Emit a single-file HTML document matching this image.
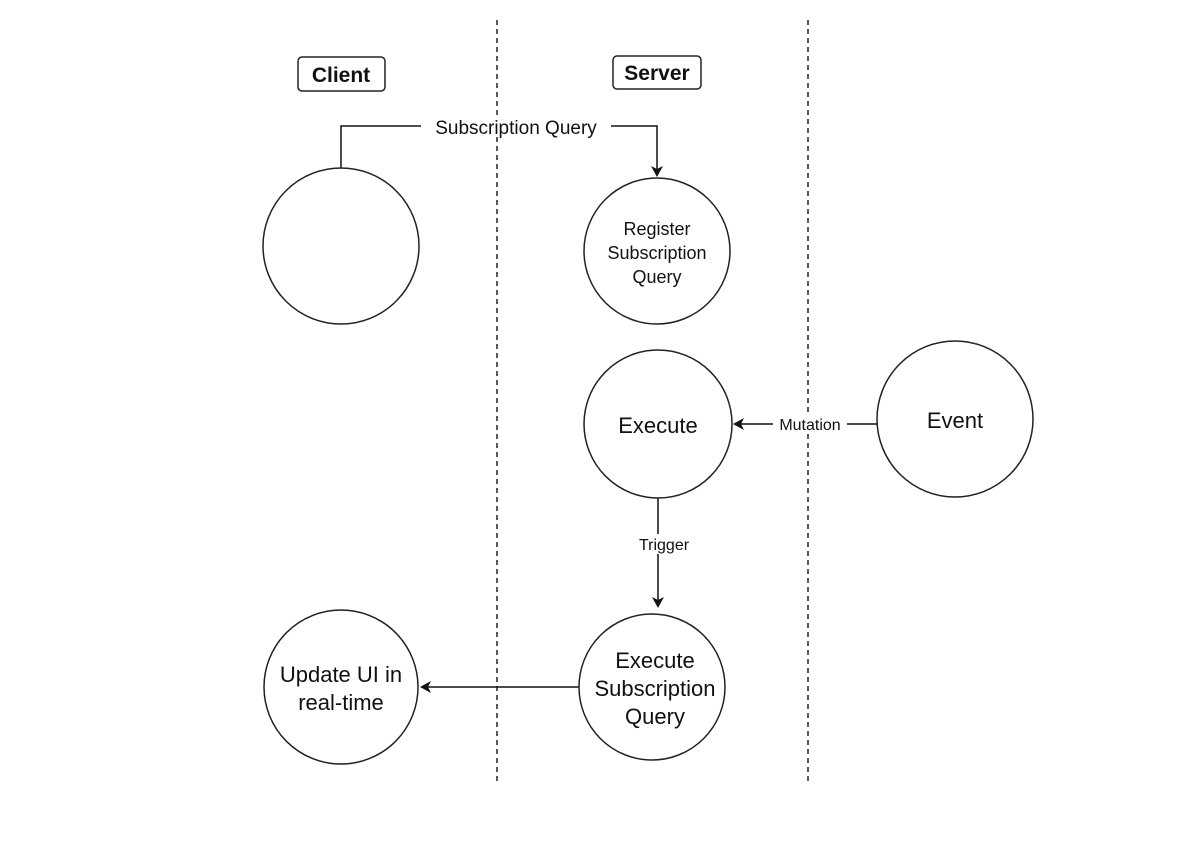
<!DOCTYPE html>
<html><head><style>body{margin:0;background:#fff}svg{display:block}text{font-family:"Liberation Sans",sans-serif;fill:#111}</style></head><body>
<svg width="1200" height="842" viewBox="0 0 1200 842" xmlns="http://www.w3.org/2000/svg">
<g stroke="#222" stroke-width="1.5" stroke-dasharray="5,4"><line x1="497" y1="20" x2="497" y2="782"/><line x1="808" y1="20" x2="808" y2="782"/></g>
<g fill="#fff" stroke="#222" stroke-width="1.5">
<rect x="298" y="57" width="87" height="34" rx="4"/><rect x="613" y="56" width="88" height="33" rx="4"/>
</g>
<text x="341" y="82" font-size="21" font-weight="bold" text-anchor="middle">Client</text>
<text x="657" y="80" font-size="21" font-weight="bold" text-anchor="middle">Server</text>
<g fill="none" stroke="#111" stroke-width="1.5">
<polyline points="341,168 341,126 657,126 657,170"/>
<line x1="877" y1="424" x2="740" y2="424"/>
<line x1="658" y1="498" x2="658" y2="601"/>
<line x1="579" y1="687" x2="427" y2="687"/>
</g>
<g fill="#111"><polygon points="651,166 657,177 663,166 657,169"/><polygon points="744,418 733,424 744,430 741,424"/><polygon points="652,597 658,608 664,597 658,600"/><polygon points="431,681 420,687 431,693 428,687"/></g>
<rect x="421" y="116" width="190" height="20" fill="#fff"/>
<text x="516" y="134" font-size="19" text-anchor="middle">Subscription Query</text>
<rect x="773" y="414" width="74" height="18" fill="#fff"/>
<text x="810" y="430" font-size="16" text-anchor="middle">Mutation</text>
<rect x="634" y="534" width="60" height="20" fill="#fff"/>
<text x="664" y="550" font-size="16" text-anchor="middle">Trigger</text>
<g fill="#fff" stroke="#222" stroke-width="1.5">
<circle cx="341" cy="246" r="78"/><circle cx="657" cy="251" r="73"/><circle cx="658" cy="424" r="74"/><circle cx="955" cy="419" r="78"/><circle cx="652" cy="687" r="73"/><circle cx="341" cy="687" r="77"/>
</g>
<g font-size="18" text-anchor="middle"><text x="657" y="235">Register</text><text x="657" y="259">Subscription</text><text x="657" y="283">Query</text></g>
<text x="658" y="433" font-size="22" text-anchor="middle">Execute</text>
<text x="955" y="428" font-size="22" text-anchor="middle">Event</text>
<g font-size="22" text-anchor="middle"><text x="655" y="668">Execute</text><text x="655" y="696">Subscription</text><text x="655" y="724">Query</text></g>
<g font-size="22" text-anchor="middle"><text x="341" y="682">Update UI in</text><text x="341" y="710">real-time</text></g>
</svg>
</body></html>
